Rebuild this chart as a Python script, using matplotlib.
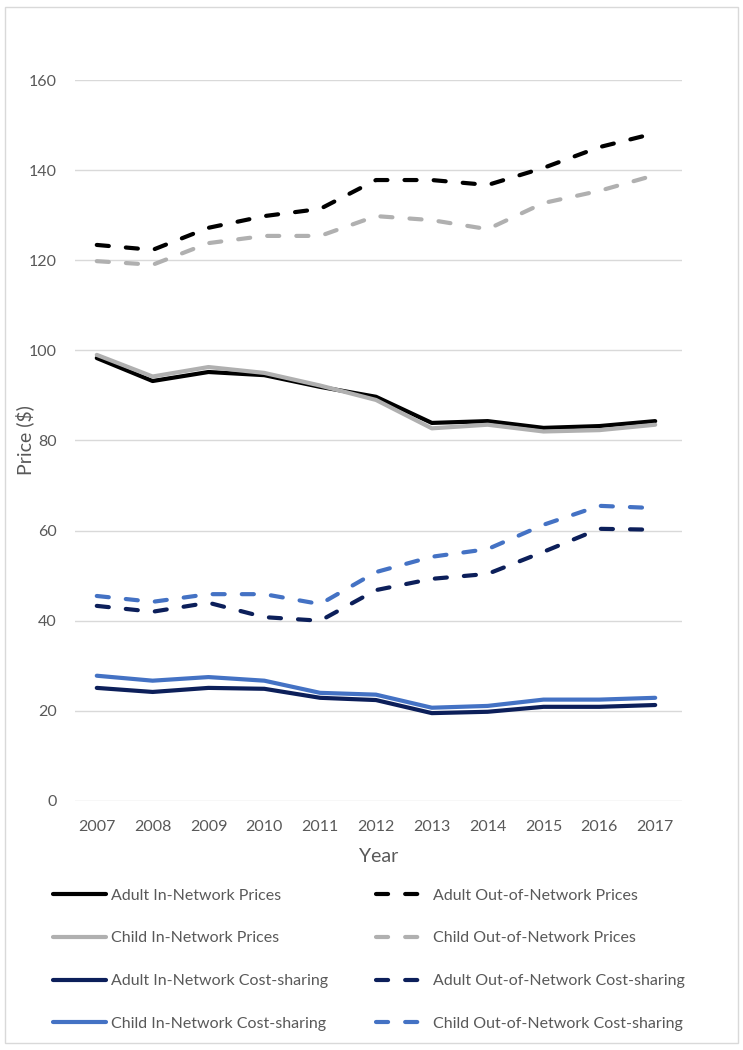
import matplotlib.pyplot as plt
from matplotlib.patches import Rectangle

years = ['2007', '2008', '2009', '2010', '2011', '2012', '2013', '2014', '2015', '2016', '2017']

adult_in_prices = [98.3, 93.2, 95.2, 94.5, 91.9, 89.7, 83.9, 84.3, 82.8, 83.2, 84.3]
child_in_prices = [99.0, 94.2, 96.3, 95.0, 92.2, 89.0, 82.7, 83.5, 82.0, 82.3, 83.5]
adult_out_prices = [123.4, 122.3, 127.2, 129.8, 131.4, 137.8, 137.8, 136.7, 140.5, 145.1, 148.2]
child_out_prices = [119.8, 119.0, 123.8, 125.4, 125.4, 129.8, 128.9, 126.9, 132.7, 135.4, 138.9]
adult_in_cs = [25.1, 24.2, 25.1, 24.9, 22.9, 22.4, 19.5, 19.8, 20.9, 20.9, 21.3]
child_in_cs = [27.8, 26.7, 27.5, 26.7, 24.0, 23.6, 20.7, 21.1, 22.5, 22.5, 22.9]
adult_out_cs = [43.3, 42.0, 44.0, 40.8, 40.0, 46.8, 49.3, 50.4, 55.3, 60.4, 60.2]
child_out_cs = [45.5, 44.2, 45.9, 45.9, 43.7, 50.8, 54.2, 55.9, 61.3, 65.5, 65.0]

plt.rcParams['font.family'] = ['Lato', 'DejaVu Sans']

fig = plt.figure(figsize=(7.43, 10.5), dpi=100)
ax = fig.add_axes([75 / 743, 1 - 801 / 1050, 607 / 743, 721 / 1050])

# outer chart border
fig.patches.append(Rectangle((5 / 743, 7 / 1050), 733 / 743, 1036 / 1050,
                             transform=fig.transFigure, fill=False,
                             edgecolor='#d9d9d9', linewidth=1))

x = list(range(len(years)))
lw = 3.0
dash = (2.9, 4.1)
black = '#000000'
gray = '#b0b0b0'
navy = '#0c1f5a'
blue = '#4472c4'

solid = dict(lw=lw, solid_capstyle='round', solid_joinstyle='round')
dashed = dict(lw=lw, dashes=dash, dash_capstyle='round', dash_joinstyle='round')

l1, = ax.plot(x, adult_in_prices, color=black, label='Adult In-Network Prices', **solid)
l2, = ax.plot(x, child_in_prices, color=gray, label='Child In-Network Prices', **solid)
l3, = ax.plot(x, adult_in_cs, color=navy, label='Adult In-Network Cost-sharing', **solid)
l4, = ax.plot(x, child_in_cs, color=blue, label='Child In-Network Cost-sharing', **solid)
l5, = ax.plot(x, adult_out_prices, color=black, label='Adult Out-of-Network Prices', **dashed)
l6, = ax.plot(x, child_out_prices, color=gray, label='Child Out-of-Network Prices', **dashed)
l7, = ax.plot(x, adult_out_cs, color=navy, label='Adult Out-of-Network Cost-sharing', **dashed)
l8, = ax.plot(x, child_out_cs, color=blue, label='Child Out-of-Network Cost-sharing', **dashed)

ax.set_xlim(-0.39, 10.48)
ax.set_ylim(0, 160)
ax.set_yticks(range(0, 161, 20))
ax.set_xticks(x)
ax.set_xticklabels(years)
ax.grid(axis='y', color='#d9d9d9', linewidth=1)
ax.set_axisbelow(True)
for s in ax.spines.values():
    s.set_visible(False)
ax.tick_params(length=0, labelsize=11.5, colors='#595959')
ax.tick_params(axis='x', pad=14)
ax.tick_params(axis='y', pad=13)

ax.set_ylabel('Price ($)', fontsize=14, color='#595959', labelpad=-4)
ax.set_xlabel('Year', fontsize=14, color='#595959', labelpad=10)

handles = [l1, l2, l3, l4, l5, l6, l7, l8]
fig.legend(handles=handles, labels=[h.get_label() for h in handles],
           ncol=2, loc='upper left', bbox_to_anchor=(39 / 743, 1 - 874 / 1050),
           frameon=False, fontsize=11.5, labelcolor='#595959',
           handlelength=3.3, handletextpad=0.3, columnspacing=3.0,
           labelspacing=1.79)

fig.savefig('out.png', dpi=100)
